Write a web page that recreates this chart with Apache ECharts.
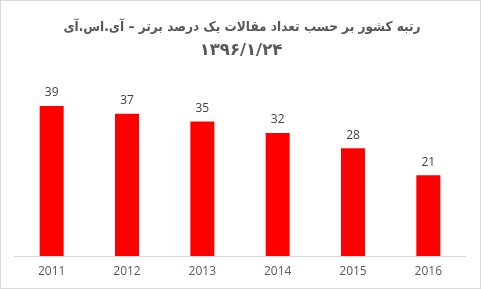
<!DOCTYPE html>
<html><head><meta charset="utf-8">
<script src="https://cdn.jsdelivr.net/npm/echarts@6/dist/echarts.min.js"></script>
<style>html,body{margin:0;padding:0;background:#fff}#c{width:481px;height:289px;box-sizing:border-box;border:1px solid #d9d9d9}</style>
</head><body><div id="c"></div>
<script>
const categories = ['2011','2012','2013','2014','2015','2016'];
const values = [39, 37, 35, 32, 28, 21];
const titleLine1 = 'رتبه کشور بر حسب تعداد مقالات یک درصد برتر – آی.اس.آی';
const titleLine2 = '۱۳۹۶/۱/۲۴';
const chart = echarts.init(document.getElementById('c'), null, {renderer:'canvas'});
chart.setOption({
  animation:false,
  title:[
    {text:titleLine1, left:241, top:19, textAlign:'center', padding:0,
      textStyle:{fontFamily:'DejaVu Sans Condensed', fontWeight:'bold', fontSize:13.5, color:'#595959'}},
    {text:titleLine2, left:240, top:41.5, textAlign:'center', padding:0,
      textStyle:{fontFamily:'DejaVu Sans', fontWeight:'bold', fontSize:16.5, color:'#595959'}}
  ],
  grid:{left:13, right:14, top:82, bottom:32},
  xAxis:{type:'category', data:categories,
    axisLine:{lineStyle:{color:'#d9d9d9'}}, axisTick:{show:false},
    axisLabel:{color:'#595959', fontSize:12, fontFamily:'Open Sans', margin:10}},
  yAxis:{type:'value', min:0, max:45, show:false, splitLine:{show:false}},
  series:[{type:'bar', data:values, barWidth:24, itemStyle:{color:'#ff0000'},
    label:{show:true, position:'top', distance:7, color:'#404040', fontSize:12, fontFamily:'Open Sans'}}]
});
</script></body></html>
